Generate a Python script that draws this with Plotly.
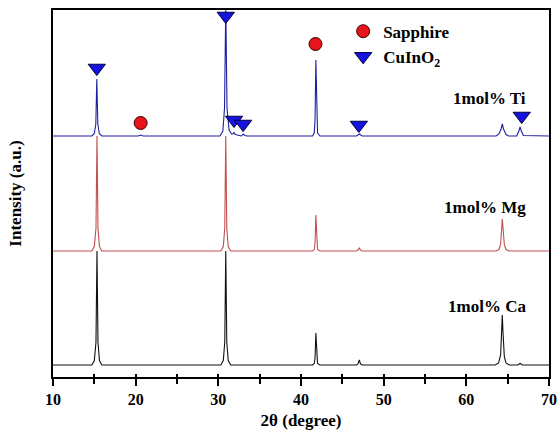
import plotly.graph_objects as go

# ---- data (2θ in degrees, intensity in arbitrary units) ----
ca_x = [10, 14.7, 15.0, 15.2, 15.32, 15.44, 15.62, 15.9,
        30.3, 30.6, 30.78, 30.9, 31.02, 31.2, 31.5,
        41.4, 41.6, 41.7, 41.8, 41.9, 42.0, 42.3,
        46.7, 46.9, 47.05, 47.2, 47.4,
        63.5, 63.9, 64.15, 64.3, 64.35, 64.45, 64.6, 64.8, 65.2,
        66.2, 66.5, 66.8, 70]
ca_y = [0, 0, 4.5, 23, 114, 23, 4.5, 0,
        0, 4.5, 23, 114, 23, 4.5, 0,
        0, 1.5, 7, 32, 7, 1.5, 0,
        0, 1, 5, 1, 0,
        0, 2, 10, 48, 50, 30, 8, 2, 0,
        0, 1.5, 0, 0]

mg_x = [10, 14.7, 15.0, 15.2, 15.32, 15.44, 15.62, 15.9,
        30.3, 30.6, 30.78, 30.9, 31.02, 31.2, 31.5,
        41.4, 41.6, 41.7, 41.8, 41.9, 42.0, 42.3,
        46.7, 46.9, 47.05, 47.2, 47.4,
        63.6, 63.95, 64.15, 64.3, 64.35, 64.45, 64.6, 64.8, 65.2, 70]
mg_y = [0, 0, 4.5, 23, 115, 23, 4.5, 0,
        0, 4.5, 23, 115, 23, 4.5, 0,
        0, 1.5, 8, 36, 8, 1.5, 0,
        0, 1, 3, 1, 0,
        0, 1.5, 7, 30, 32, 22, 6, 1.5, 0, 0]

ti_x = [10, 14.7, 15.0, 15.18, 15.3, 15.42, 15.6, 15.9,
        20.3, 20.6, 20.9,
        30.2, 30.55, 30.75, 30.9, 31.05, 31.3, 31.6,
        31.75, 31.9, 32.05, 32.8, 33.0, 33.2, 33.5,
        41.4, 41.6, 41.7, 41.8, 41.9, 42.0, 42.3,
        46.7, 47.05, 47.4,
        63.6, 63.95, 64.2, 64.35, 64.5, 64.8, 65.1,
        66.1, 66.35, 66.5, 66.65, 66.9, 70]
ti_y = [0, 0, 2.5, 12, 57, 12, 2.5, 0,
        0, 1, 0,
        0, 5, 28, 130, 28, 6, 2,
        2, 3.5, 1.5, 0, 2, 0.5, 0,
        0, 3, 16, 76, 16, 3, 0,
        0, 2, 0,
        0, 2, 7, 12, 7, 1.5, 0,
        0, 5, 9, 5, 0.5, 0]

series_names = ["1mol% Ca", "1mol% Mg", "1mol% Ti"]
series_offsets = [12, 126, 241]
series_colors = ["#111111", "#c0504d", "#1f1f9f"]
label_y = [71, 170, 279]

# phase markers
cuino2_x = [15.3, 30.9, 31.9, 33.0, 47.0, 66.7]
cuino2_y = [309, 361, 257, 253, 252, 261]
sapph_x = [20.6, 41.75]
sapph_y = [254, 333]

x_ticks = [10, 20, 30, 40, 50, 60, 70]

FONT = "Liberation Serif"
BOLD = dict(family=FONT, color="black", weight="bold")

fig = go.Figure()
for xs, ys, off, col in zip([ca_x, mg_x, ti_x], [ca_y, mg_y, ti_y],
                            series_offsets, series_colors):
    fig.add_trace(go.Scatter(x=xs, y=[v + off for v in ys], mode="lines",
                             line=dict(color=col, width=1.1), showlegend=False,
                             hoverinfo="skip"))

fig.add_trace(go.Scatter(x=sapph_x, y=sapph_y, mode="markers", name="Sapphire",
                         marker=dict(symbol="circle", size=13, color="#e8141b",
                                     line=dict(color="#3a0000", width=1)),
                         cliponaxis=False))
fig.add_trace(go.Scatter(x=cuino2_x, y=cuino2_y, mode="markers", name="CuInO<sub>2</sub>",
                         marker=dict(symbol="triangle-down", size=15, color="#1414e0",
                                     line=dict(color="#000040", width=1)),
                         cliponaxis=False))
# helper trace for inner ticks
fig.add_trace(go.Scatter(x=[10, 70], y=[None, None], xaxis="x2", showlegend=False,
                         hoverinfo="skip"))

for name, ly in zip(series_names, label_y):
    fig.add_annotation(x=67.5, y=ly, text=name, showarrow=False,
                       xanchor="right", yanchor="middle",
                       font=dict(size=17, **BOLD))

fig.update_layout(
    width=557, height=433,
    margin=dict(l=53, r=8, t=10, b=56),
    plot_bgcolor="white", paper_bgcolor="white",
    font=dict(family=FONT, size=15, color="black"),
    xaxis=dict(range=[10, 70], tickvals=x_ticks, ticks="outside", ticklen=7,
               tickwidth=1.5, tickcolor="black", automargin=False,
               minor=dict(dtick=5, tick0=10, ticks="outside", ticklen=5, tickwidth=1.5,
                          tickcolor="black"),
               showline=True, linecolor="black", linewidth=2, mirror=True,
               showgrid=False, zeroline=False,
               tickfont=dict(size=16, **BOLD),
               title=dict(text="2θ (degree)", font=dict(size=17, **BOLD),
                          standoff=7)),
    xaxis2=dict(range=[10, 70], overlaying="x", side="bottom", anchor="y",
                tickvals=x_ticks, ticks="inside", ticklen=3, tickwidth=1.5,
                tickcolor="black", showticklabels=False, showgrid=False,
                zeroline=False, showline=False, automargin=False,
                minor=dict(dtick=5, tick0=10, ticks="inside", ticklen=3, tickwidth=1.5,
                           tickcolor="black")),
    yaxis=dict(range=[0, 367], showticklabels=False, ticks="", showgrid=False,
               zeroline=False, showline=True, linecolor="black", linewidth=2, mirror=True,
               automargin=False,
               title=dict(text="Intensity (a.u.)", font=dict(size=17, **BOLD),
                          standoff=25)),
    legend=dict(x=0.585, y=0.99, xanchor="left", yanchor="top",
                bgcolor="rgba(0,0,0,0)", borderwidth=0,
                font=dict(size=17, **BOLD),
                itemsizing="trace", tracegroupgap=0),
)

fig.write_html("out.html", config={"displayModeBar": False},
               post_script="document.body.style.margin='0';document.body.style.overflow='hidden';")
